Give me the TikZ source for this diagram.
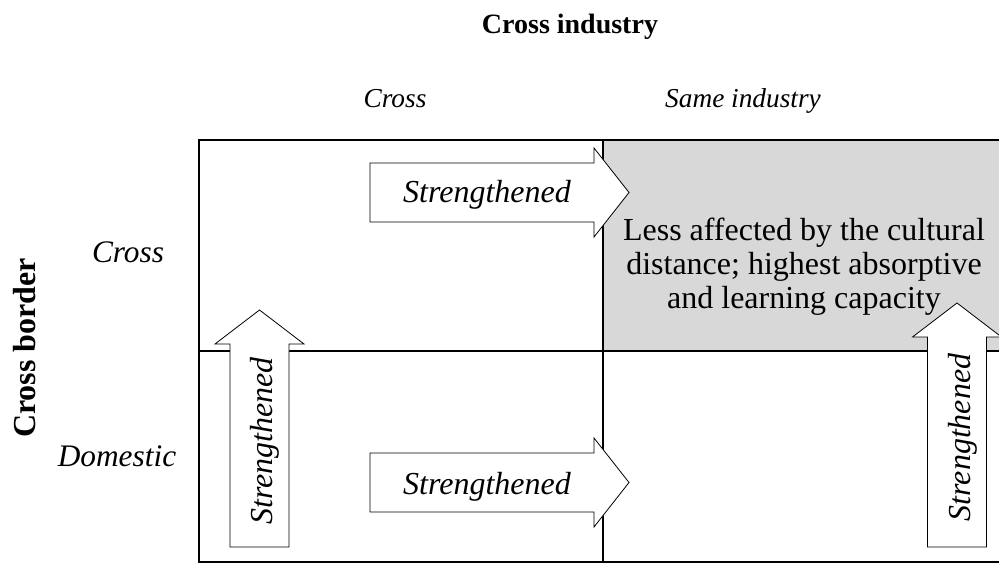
\documentclass[tikz,border=0pt]{standalone}
\usepackage{fontspec}
\setmainfont{Liberation Serif}
\usepackage{tikz}
\definecolor{cellgrey}{RGB}{217,216,217}
\tikzset{gridline/.style={line width=1.5pt}}
\tikzset{midline/.style={line width=2.1pt}}
\tikzset{blockarrow/.style={draw, fill=white, line width=0.6pt}}
\tikzset{arrowtext/.style={font=\fontsize{24}{26}\selectfont\itshape, inner sep=0pt, anchor=base}}
\tikzset{toplabel/.style={font=\fontsize{20.5}{24}\selectfont\itshape, inner sep=0pt, anchor=base}}
\tikzset{sidelabel/.style={font=\fontsize{23.5}{26}\selectfont\itshape, inner sep=0pt, anchor=base}}
\tikzset{heading/.style={font=\fontsize{#1}{26}\selectfont\bfseries, inner sep=0pt, anchor=base}}
\tikzset{cellfont/.style={font=\fontsize{24}{25.5}\selectfont, inner sep=0pt, anchor=base, align=center}}

\begin{document}
\begin{tikzpicture}[x=0.75pt, y=-0.75pt]
            \useasboundingbox (0,0) rectangle (999,563);
            \clip (0,0) rectangle (999,563);
            \fill[cellgrey] (603,140) rectangle (1003,351);
            \draw[gridline] (199,140) rectangle (1003,562);
            \draw[midline] (603,140) -- (603,562);
            \draw[midline] (199,351) -- (1003,351);
            \foreach \y in {192.5, 482.5} {
                \draw[blockarrow] (370,\y-29.5) -- (594,\y-29.5) -- (594,\y-44.5) -- (629,\y) -- (594,\y+44.5) -- (594,\y+29.5) -- (370,\y+29.5) -- cycle;
            }
            \foreach \x/\ytip in {259.5/310, 957/303} {
                \draw[blockarrow] (\x-29.5,547) -- (\x-29.5,\ytip+34) -- (\x-44.5,\ytip+34) -- (\x,\ytip) -- (\x+44.5,\ytip+34) -- (\x+29.5,\ytip+34) -- (\x+29.5,547) -- cycle;
            }
            \node[heading=21] (crossInd) at (570,34) {Cross industry};
            \node[toplabel] (colCross) at (395,108) {Cross};
            \node[toplabel] (colSame) at (743,108) {Same industry};
            \node[heading=24, rotate=90] (crossBorder) at (35,348) {Cross border};
            \node[sidelabel] (rowCross) at (128,262) {Cross};
            \node[sidelabel] (rowDomestic) at (117,466) {Domestic};
            \node[cellfont] (bestCell) at (804,308) {Less affected by the cultural\\distance; highest absorptive\\and learning capacity};
            \node[arrowtext] (strTop) at (487,203) {Strengthened};
            \node[arrowtext] (strBottom) at (487,494) {Strengthened};
            \node[arrowtext, rotate=90] (strLeft) at (272,441) {Strengthened};
            \node[arrowtext, rotate=90] (strRight) at (970,437.5) {Strengthened};
\end{tikzpicture}
\end{document}
